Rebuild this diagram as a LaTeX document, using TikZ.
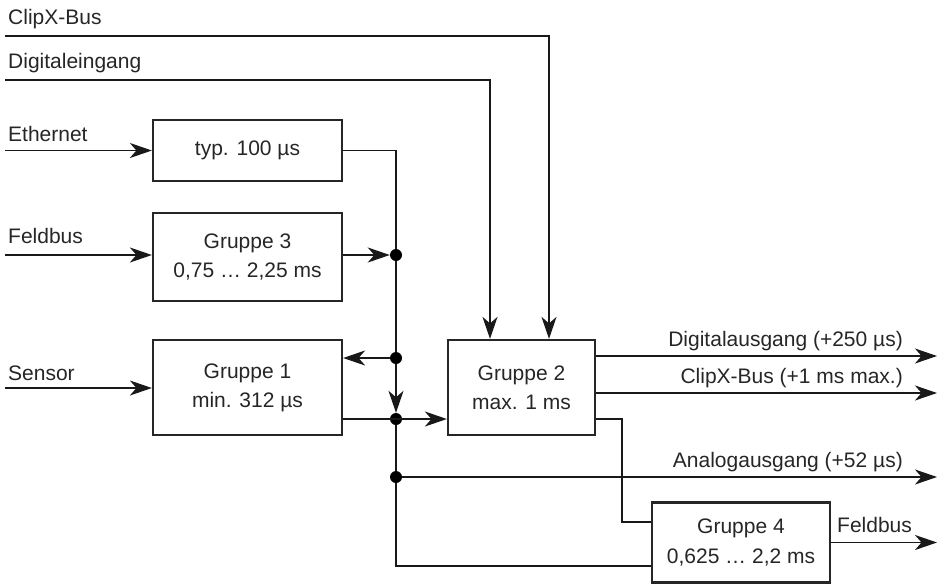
\documentclass[tikz,border=0pt]{standalone}
\usepackage{fontspec}
\setmainfont{Liberation Sans}
\usetikzlibrary{arrows.meta, positioning}

\begin{document}
\begin{tikzpicture}[
  x=1pt, y=-1pt,
  every node/.style={font=\fontsize{21}{29}\selectfont, text=black!85},
  block/.style={rectangle, draw=black!85, line width=2.2pt, minimum width=189pt,
    align=center, inner sep=0pt},
  lbl/.style={inner sep=0pt},
  dot/.style={circle, fill=black, inner sep=0pt, minimum size=12pt},
  line/.style={line width=1.9pt, draw=black!90},
  arrow/.style={line, -{Stealth[length=22pt, width=15pt, inset=6.5pt]}}
]
\useasboundingbox (0,0) rectangle (944,587);

% Bloecke
\node[block, minimum height=61pt] (eth) at (247.5,150.5) {typ. 100 µs};
\node[block, minimum height=88pt] (grp3) at (247.5,257) {Gruppe 3\\0,75 … 2,25 ms};
\node[block, minimum height=95pt] (grp1) at (247.5,387.5) {Gruppe 1\\min. 312 µs};
\node[block, minimum width=147pt, minimum height=95pt] (grp2) at (521.5,387.5) {Gruppe 2\\max. 1 ms};
\node[block, minimum width=178pt, minimum height=80pt] (grp4) at (741,542.5) {Gruppe 4\\0,625 … 2,2 ms};

% Knotenpunkte
\node[dot] (j3) at (396,255) {};
\node[dot] (jfb) at (396,358) {};
\node[dot] (j1) at (396,419) {};
\node[dot] (ja) at (396,477) {};

% Hilfspunkte
\coordinate (clipin) at (5,36);
\coordinate (clipturn) at (549,36);
\coordinate (digin) at (5,80);
\coordinate (digturn) at (490,80);
\coordinate (ethin) at (5,150.5);
\coordinate (fbin) at (5,255);
\coordinate (senin) at (5,388);
\coordinate (bustop) at (396,150.5);
\coordinate (busbot) at (396,566);
\coordinate (bend) at (622,522);
\coordinate (dout) at (937,356);
\coordinate (cout) at (937,393);
\coordinate (aout) at (937,477);
\coordinate (fout) at (937,542.5);

% Eingaenge
\draw[arrow] (clipin) -- (clipturn) -- (clipturn |- grp2.north);
\draw[arrow] (digin) -- (digturn) -- (digturn |- grp2.north);
\draw[arrow] (ethin) -- (ethin -| eth.west);
\draw[arrow] (fbin) -- (fbin -| grp3.west);
\draw[arrow] (senin) -- (senin -| grp1.west);

% Sammelleitung
\draw[line] (eth.east |- bustop) -- (bustop) -- (j3);
\draw[arrow] (grp3.east |- j3) -- (j3);
\draw[line] (j3) -- (jfb);
\draw[arrow] (jfb) -- (jfb -| grp1.east);
\draw[arrow] (jfb) -- (j1);
\draw[arrow] (grp1.east |- j1) -- (j1 -| grp2.west);
\draw[line] (j1) -- (ja);
\draw[line] (ja) -- (busbot) -- (busbot -| grp4.west);

% Ausgaenge
\draw[arrow] (grp2.east |- dout) -- (dout);
\draw[arrow] (grp2.east |- cout) -- (cout);
\draw[arrow] (ja) -- (aout);
\draw[line] (grp2.east |- j1) -| (bend) -- (bend -| grp4.west);
\draw[arrow] (grp4.east) -- (fout);

% Beschriftungen
\node[lbl, anchor=base west] (clipl) at (8,24) {ClipX-Bus};
\node[lbl, anchor=base west] (digl) at (8,68) {Digitaleingang};
\node[lbl, anchor=base west] (ethl) at (8,141) {Ethernet};
\node[lbl, anchor=base west] (fbl) at (8,243) {Feldbus};
\node[lbl, anchor=base west] (senl) at (8,380) {Sensor};
\node[lbl, anchor=base east] (doutl) at (903,346) {Digitalausgang (+250 µs)};
\node[lbl, anchor=base east] (coutl) at (903,383) {ClipX-Bus (+1 ms max.)};
\node[lbl, anchor=base east] (aoutl) at (903,467) {Analogausgang (+52 µs)};
\node[lbl, anchor=base west] (foutl) at (837,532) {Feldbus};

\end{tikzpicture}
\end{document}
